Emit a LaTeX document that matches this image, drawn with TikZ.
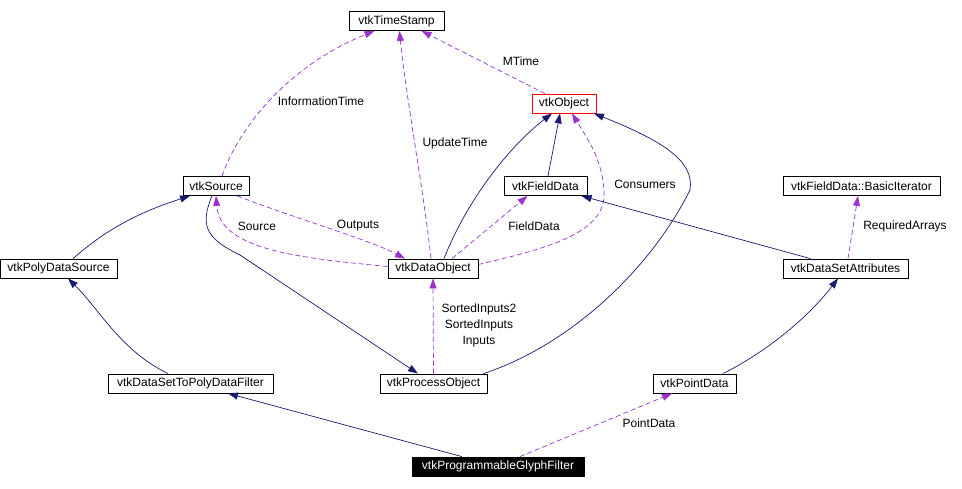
\documentclass[tikz,border=0pt]{standalone}
\usepackage{fontspec}
\setmainfont{Liberation Sans}
\usetikzlibrary{arrows.meta}
\definecolor{navyedge}{HTML}{191970}
\definecolor{useedge}{HTML}{9A32CD}

\begin{document}
\begin{tikzpicture}[x=1pt,y=-1pt,
  cls/.style={draw,line width=0.8pt,inner sep=0pt,minimum height=19pt,font=\fontsize{12}{14}\selectfont},
  lbl/.style={inner sep=0pt,font=\fontsize{12}{16}\selectfont,align=center},
  inh/.style={navyedge,line width=0.7pt,-{Triangle[length=10pt,width=7pt]}},
  usedby/.style={useedge,line width=0.7pt,dash pattern=on 5pt off 3pt,-{Triangle[length=10pt,width=7pt]}}]
\useasboundingbox (0,0) rectangle (962,488);

  \node[cls,minimum width=95pt] (ts) at (396.5,21) {vtkTimeStamp};
  \node[cls,draw=red,minimum width=64pt] (obj) at (564,103.5) {vtkObject};
  \node[cls,minimum width=66pt] (src) at (216,186) {vtkSource};
  \node[cls,minimum width=83pt] (fd) at (545.5,186) {vtkFieldData};
  \node[cls,minimum width=157pt] (bi) at (861.5,186) {vtkFieldData::BasicIterator};
  \node[cls,minimum width=117pt] (pds) at (58.5,268.5) {vtkPolyDataSource};
  \node[cls,minimum width=90pt] (dobj) at (433,268.5) {vtkDataObject};
  \node[cls,minimum width=125pt] (dsa) at (845.5,268.5) {vtkDataSetAttributes};
  \node[cls,minimum width=165pt] (dsp) at (190.5,383.5) {vtkDataSetToPolyDataFilter};
  \node[cls,minimum width=107pt] (po) at (433.5,383.5) {vtkProcessObject};
  \node[cls,minimum width=83pt] (pd) at (694.5,383.5) {vtkPointData};
  \node[cls,fill=black,text=white,minimum width=172pt] (pgf) at (498,466.5) {vtkProgrammableGlyphFilter};

  \draw[usedby] ([xshift=6pt]src.north) .. controls (240,125) and (290,65) .. ([xshift=-22pt]ts.south);
  \draw[usedby] ([xshift=-2pt]dobj.north) .. controls (425,200) and (405,90) .. ([xshift=3pt]ts.south);
  \draw[usedby] ([xshift=-19pt]obj.north) -- ([xshift=25pt]ts.south);
  \draw[inh] ([xshift=11pt]dobj.north) .. controls (465,205) and (505,150) .. ([xshift=-12pt]obj.south);
  \draw[inh] ([xshift=2.5pt]fd.north) -- ([xshift=-4pt]obj.south);
  \draw[inh] ([xshift=50pt]po.north) .. controls (570,345) and (650,270) .. (690,190) .. controls (695,160) and (660,140) .. ([xshift=30pt]obj.south);
  \draw[usedby] ([yshift=4pt]dobj.east) .. controls (540,250) and (604,235) .. (604,195) .. controls (604,160) and (585,135) .. ([xshift=8pt]obj.south);
  \draw[usedby] ([xshift=19pt]dobj.north) -- ([xshift=-18pt]fd.south);
  \draw[inh] ([xshift=-35pt]dsa.north) -- ([xshift=36pt]fd.south);
  \draw[usedby] ([xshift=2.5pt]dsa.north) -- ([xshift=-3.5pt]bi.south);
  \draw[inh] ([xshift=14.5pt]pds.north) .. controls (100,235) and (130,215) .. ([xshift=-26pt]src.south);
  \draw[usedby] ([xshift=21pt]src.south) .. controls (300,220) and (370,240) .. ([xshift=-28pt]dobj.north);
  \draw[usedby] ([yshift=2pt]dobj.west) .. controls (300,258) and (220,250) .. (src.south);
  \draw[inh] ([xshift=-4pt]src.south) .. controls (200,225) and (205,238) .. (240,255) -- ([xshift=-15.5pt]po.north);
  \draw[usedby] (po.north) -- (dobj.south);
  \draw[inh] ([xshift=-22.5pt]dsp.north) .. controls (120,350) and (100,310) .. ([xshift=9.5pt]pds.south);
  \draw[inh] ([xshift=-36pt]pgf.north) -- ([xshift=37.5pt]dsp.south);
  \draw[usedby] ([xshift=22pt]pgf.north) -- ([xshift=-22.5pt]pd.south);
  \draw[inh] ([xshift=28.5pt]pd.north) .. controls (770,350) and (810,315) .. ([xshift=-7.5pt]dsa.south);

  \node[lbl] (linfo) at (321,101) {InformationTime};
  \node[lbl] (lupd) at (455,143) {UpdateTime};
  \node[lbl] (lmt) at (521,61) {MTime};
  \node[lbl] (lcons) at (645,184) {Consumers};
  \node[lbl] (lfd) at (534,226) {FieldData};
  \node[lbl] (lreq) at (905,226) {RequiredArrays};
  \node[lbl] (lout) at (358,226) {Outputs};
  \node[lbl] (lsrc) at (257,226) {Source};
  \node[lbl] (lin) at (479,325) {SortedInputs2\\SortedInputs\\Inputs};
  \node[lbl] (lpd) at (649,423) {PointData};

\end{tikzpicture}
\end{document}
